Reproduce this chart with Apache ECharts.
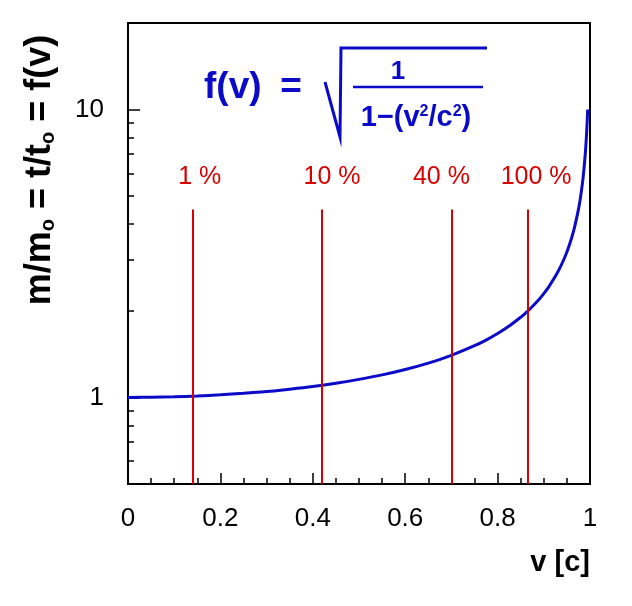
<!DOCTYPE html>
<html><head><meta charset="utf-8">
<script src="https://cdn.jsdelivr.net/npm/echarts@6/dist/echarts.min.js"></script>
<style>html,body{margin:0;padding:0;background:#fff}#c{width:632px;height:606px}</style>
</head><body><div id="c"></div>
<script>
// velocity v (in units of c)
const velocity = [0, 0.05, 0.1, 0.15, 0.2, 0.25, 0.3, 0.35, 0.4, 0.45, 0.5, 0.55, 0.6, 0.65, 0.7, 0.75, 0.775, 0.8, 0.825, 0.85, 0.86, 0.87, 0.89, 0.9, 0.91, 0.93, 0.945, 0.955, 0.965, 0.975, 0.98, 0.985, 0.99, 0.993, 0.995];
// f(v)
const gamma = [1, 1.001, 1.005, 1.011, 1.021, 1.033, 1.048, 1.068, 1.091, 1.12, 1.155, 1.197, 1.25, 1.316, 1.4, 1.512, 1.582, 1.667, 1.77, 1.898, 1.96, 2.028, 2.193, 2.294, 2.412, 2.721, 3.057, 3.371, 3.813, 4.5, 5.025, 5.795, 7.089, 8.466, 10.01];
// red marker lines
const markerV = [0.14, 0.42, 0.70, 0.866];
const markerLabels = ['1 %', '10 %', '40 %', '100 %'];
const markerTop = 4.5;
// ticks
const yMajorTicks = [1, 10];
const yMinorTicks = [0.6, 0.7, 0.8, 0.9, 2, 3, 4, 5, 6, 7, 8, 9];

const FONT = 'Liberation Sans, Arial, Helvetica, sans-serif';
const BLUE = '#0a0ac8';
const RED = '#d80000';
const labelPad = [[0,0,0,14],[0,0,0,20],[0,20,0,0],[0,0,0,16]];

const chart = echarts.init(document.getElementById('c'));
chart.setOption({
  animation: false,
  backgroundColor: '#fff',
  grid: { left: 128, right: 42, top: 23, bottom: 122, show: true, borderColor: '#000', borderWidth: 2, backgroundColor: 'transparent' },
  xAxis: {
    type: 'value', min: 0, max: 1, interval: 0.2,
    name: 'v [c]', nameLocation: 'end', nameGap: 0,
    nameTextStyle: { fontFamily: FONT, fontSize: 29, fontWeight: 'bold', color: '#000', align: 'right', verticalAlign: 'top', padding: [64, 0, 0, 0] },
    axisLine: { show: true, lineStyle: { color: '#000', width: 2 } },
    axisTick: { show: true, inside: true, length: 11, lineStyle: { color: '#000', width: 1.5 } },
    minorTick: { show: true, splitNumber: 4, length: 6, lineStyle: { color: '#000', width: 1.5 } },
    splitLine: { show: false },
    axisLabel: { fontFamily: FONT, fontSize: 26, color: '#000', margin: 22 }
  },
  yAxis: [{
    type: 'log', logBase: 10, min: 0.5, max: 20, position: 'left',
    axisLine: { show: true, lineStyle: { color: '#000', width: 2 } },
    axisTick: { show: true, inside: true, length: 12, customValues: yMajorTicks, lineStyle: { color: '#000', width: 1.5 } },
    axisLabel: { fontFamily: FONT, fontSize: 26, color: '#000', margin: 24, customValues: yMajorTicks },
    splitLine: { show: false }
  }, {
    type: 'log', logBase: 10, min: 0.5, max: 20, position: 'left',
    axisLine: { show: false },
    axisTick: { show: true, inside: true, length: 6, customValues: yMinorTicks, lineStyle: { color: '#000', width: 1.5 } },
    axisLabel: { show: false },
    splitLine: { show: false }
  }],
  series: [{
    type: 'line',
    xAxisIndex: 0, yAxisIndex: 0,
    data: velocity.map((v, i) => [v, gamma[i]]),
    showSymbol: false, smooth: 0.3,
    lineStyle: { color: BLUE, width: 3 },
    markLine: {
      silent: true, symbol: 'none', animation: false,
      lineStyle: { color: RED, width: 2, type: 'solid' },
      label: { show: true, position: 'end', formatter: '{b}', fontFamily: FONT, fontSize: 25, color: RED, distance: 20 },
      data: markerV.map((v, i) => [
        { coord: [v, 0.5], name: markerLabels[i], label: { padding: labelPad[i] } },
        { coord: [v, markerTop] }
      ])
    }
  }],
  graphic: [
    { type: 'text', x: 40, y: 170, rotation: Math.PI / 2,
      style: { text: 'm/m{s|o} = t/t{s|o} = f(v)', fontFamily: FONT, fontSize: 36, fontWeight: 'bold', fill: '#000', align: 'center', verticalAlign: 'middle',
        rich: { s: { fontFamily: FONT, fontSize: 20, fontWeight: 'bold', fill: '#000', padding: [16, 0, 0, 0] } } } },
    { type: 'text', x: 204, y: 88, style: { text: 'f(v)', fontFamily: FONT, fontSize: 37, fontWeight: 'bold', fill: BLUE, align: 'left', verticalAlign: 'middle' } },
    { type: 'text', x: 291, y: 88, style: { text: '=', fontFamily: FONT, fontSize: 37, fontWeight: 'bold', fill: BLUE, align: 'center', verticalAlign: 'middle' } },
    { type: 'polyline', shape: { points: [[325, 82], [340, 137], [341, 48], [487, 48]] }, style: { stroke: BLUE, lineWidth: 3, fill: null } },
    { type: 'line', shape: { x1: 353, y1: 87, x2: 483, y2: 87 }, style: { stroke: BLUE, lineWidth: 2.5 } },
    { type: 'text', x: 398, y: 72, style: { text: '1', fontFamily: FONT, fontSize: 26, fontWeight: 'bold', fill: BLUE, align: 'center', verticalAlign: 'middle' } },
    { type: 'text', x: 416, y: 118, style: { text: '1\u2212(v{p|2}/c{p|2})', fontFamily: FONT, fontSize: 29, fontWeight: 'bold', fill: BLUE, align: 'center', verticalAlign: 'middle',
        rich: { p: { fontFamily: FONT, fontSize: 16, fontWeight: 'bold', fill: BLUE, padding: [0, 0, 12, 0] } } } }
  ]
});
</script></body></html>
